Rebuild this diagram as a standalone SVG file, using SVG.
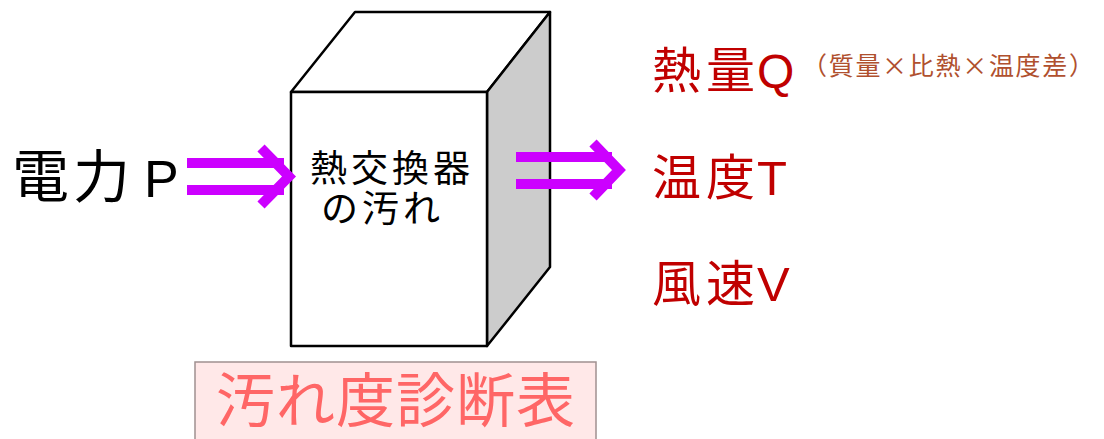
<svg xmlns="http://www.w3.org/2000/svg" width="1104" height="439" viewBox="0 0 1104 439">
<style>
.jp{font-family:"Noto Sans CJK JP","Noto Sans",sans-serif}
.lat{font-family:"Liberation Sans",Arial,sans-serif}
.box{stroke:#000;stroke-width:2.5;stroke-linejoin:round}
.arr{fill:none;stroke:#CC00FF;stroke-width:10;stroke-linejoin:miter;stroke-linecap:butt}
.red{fill:#C00000}
</style>
<rect width="1104" height="439" fill="#fff"/>
<g id="input-label"><text class="jp" y="197" font-size="57" fill="#000"><tspan x="12">電</tspan><tspan x="73">力</tspan><tspan class="lat" x="144" font-size="52">P</tspan></text></g>
<g id="heat-exchanger">
<polygon class="box" points="291,92 355,12 550,12 487,92" fill="#fff"/>
<polygon class="box" points="487,92 550,12 550,267 487,346" fill="#CCCCCC"/>
<rect class="box" x="291" y="92" width="196" height="254" fill="#fff"/>
<text class="jp" font-size="37" letter-spacing="4" fill="#000"><tspan x="310" y="182">熱交換器</tspan><tspan x="321" y="222">の汚れ</tspan></text>
</g>
<g id="connectors">
<path class="arr" d="M187,163 H284 M187,190 H284 M261,148 L289,176.5 L261,205"/>
<path class="arr" d="M516,157 H612 M516,184 H612 M593,143 L619,170 L593,197"/>
</g>
<g id="heat-q">
<text class="jp red" y="88" font-size="49"><tspan x="652">熱</tspan><tspan x="706">量</tspan><tspan class="lat" x="757" font-size="48">Q</tspan></text>
<text class="jp" x="802" y="75" font-size="25" fill="#B0502E" textLength="292" lengthAdjust="spacing">（質量×比熱×温度差）</text>
</g>
<g id="temp-t"><text class="jp red" y="195" font-size="49"><tspan x="652">温</tspan><tspan x="706">度</tspan><tspan class="lat" x="757" font-size="49">T</tspan></text></g>
<g id="wind-v"><text class="jp red" y="301" font-size="49"><tspan x="652">風</tspan><tspan x="706">速</tspan><tspan class="lat" x="757" font-size="49">V</tspan></text></g>
<g id="diagnosis">
<rect x="195" y="362" width="401" height="90" fill="#FFE8E8" stroke="#A09090" stroke-width="1.5"/>
<text class="jp" x="216" y="422" font-size="59" letter-spacing="1" fill="#FF6666">汚れ度診断表</text>
</g>
</svg>
